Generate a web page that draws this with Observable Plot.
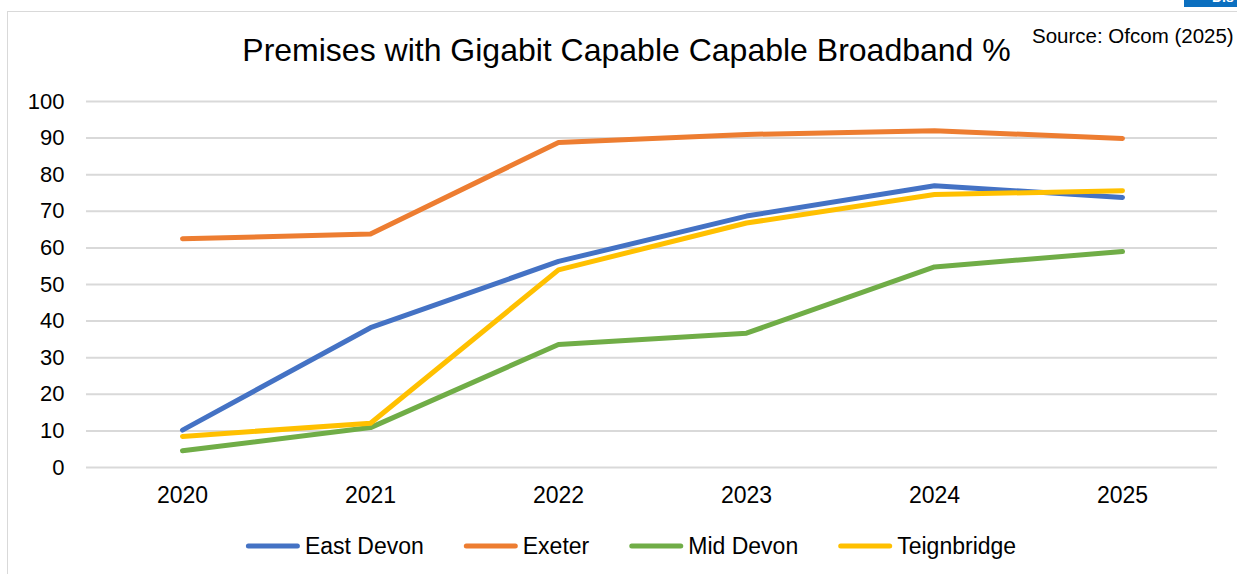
<!DOCTYPE html>
<html>
<head>
<meta charset="utf-8">
<script src="https://cdn.jsdelivr.net/npm/d3@7"></script>
<script src="https://cdn.jsdelivr.net/npm/@observablehq/plot@0.6"></script>
<style>
  html, body { margin: 0; padding: 0; background: #fff; overflow: hidden; }
  #wrap { position: relative; width: 1237px; height: 574px; }
  #frame { position: absolute; left: 7px; top: 11px; width: 1300px; height: 700px;
           border-left: 1.5px solid #d9d9d9; border-top: 1.5px solid #d9d9d9; box-sizing: border-box; }
  #tab { position: absolute; left: 1184px; top: -12px; width: 60px; height: 19px; background: #0b6fbf;
         color: #fff; font: bold 14px "Liberation Sans", Arial, sans-serif; line-height: 19px; padding-left: 28px; box-sizing: border-box; }
  svg text { font-family: "Liberation Sans", Arial, sans-serif; }
</style>
</head>
<body>
<div id="wrap"><div id="frame"></div><div id="tab">Dis</div></div>
<script>
const years = ["2020", "2021", "2022", "2023", "2024", "2025"];
const seriesNames = ["East Devon", "Exeter", "Mid Devon", "Teignbridge"];
const seriesColors = ["#4472C4", "#ED7D31", "#70AD47", "#FFC000"];
const eastDevon   = [10.2, 38.2, 56.3, 68.7, 77.0, 73.8];
const exeter      = [62.5, 63.8, 88.8, 91.0, 92.0, 89.9];
const midDevon    = [4.6, 10.9, 33.6, 36.7, 54.8, 59.0];
const teignbridge = [8.5, 12.1, 54.0, 66.8, 74.6, 75.6];
const yTicks = [0, 10, 20, 30, 40, 50, 60, 70, 80, 90, 100];
const titleText = "Premises with Gigabit Capable Capable Broadband %";
const sourceText = "Source: Ofcom (2025)";

const seriesValues = [eastDevon, exeter, midDevon, teignbridge];
const data = [];
seriesNames.forEach((s, i) => years.forEach((y, j) => data.push({series: s, year: y, value: seriesValues[i][j]})));

const W = 1237, H = 574;
const chart = Plot.plot({
  width: W, height: H,
  marginLeft: 86, marginRight: 20, marginTop: 101, marginBottom: 107,
  style: {fontFamily: "Liberation Sans, Arial, sans-serif", fontSize: "22px", color: "#000", background: "transparent"},
  x: {type: "point", domain: years, padding: 0.5, label: null},
  y: {domain: [0, 100], ticks: yTicks, label: null},
  color: {domain: seriesNames, range: seriesColors},
  marks: [
    Plot.gridY(yTicks, {stroke: "#d9d9d9", strokeOpacity: 1, strokeWidth: 2}),
    Plot.axisY(yTicks, {tickSize: 0, tickPadding: 22, fontSize: 22, fill: "#000", label: null}),
    Plot.axisX({tickSize: 0, tickPadding: 19, fontSize: 23, fill: "#000", label: null}),
    Plot.line(data, {x: "year", y: "value", z: "series", stroke: "series", strokeWidth: 5,
                     strokeLinejoin: "round", strokeLinecap: "round"})
  ]
});
chart.style.position = "absolute";
chart.style.left = "0px";
chart.style.top = "0px";
document.getElementById("wrap").appendChild(chart);

const svg = d3.select(chart);
svg.append("text").attr("x", 626.5).attr("y", 61).attr("text-anchor", "middle")
  .attr("font-size", 32).attr("fill", "#000").text(titleText);
svg.append("text").attr("x", 1032).attr("y", 43).attr("text-anchor", "start")
  .attr("font-size", 20.5).attr("fill", "#000").text(sourceText);

// legend
const lg = svg.append("g");
const swatch = 54, gapText = 5, gapItem = 40, ly = 546;
let x = 0;
seriesNames.forEach((s, i) => {
  const g = lg.append("g").attr("transform", `translate(${x},0)`);
  g.append("line").attr("x1", 2.5).attr("x2", swatch - 2.5).attr("y1", ly).attr("y2", ly)
    .attr("stroke", seriesColors[i]).attr("stroke-width", 5).attr("stroke-linecap", "round");
  const t = g.append("text").attr("x", swatch + gapText).attr("y", ly + 8).attr("font-size", 23)
    .attr("text-anchor", "start").attr("fill", "#000").text(s);
  x += swatch + gapText + t.node().getComputedTextLength() + gapItem;
});
const total = x - gapItem;
lg.attr("transform", `translate(${631 - total / 2},0)`);
</script>
</body>
</html>
